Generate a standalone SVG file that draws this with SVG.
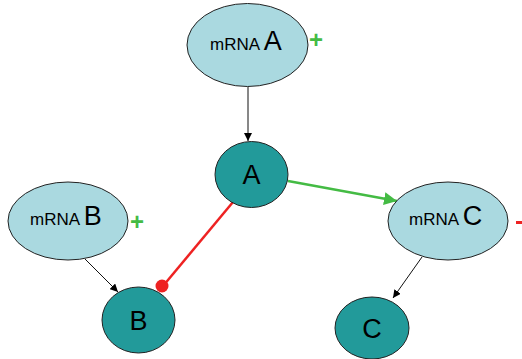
<svg xmlns="http://www.w3.org/2000/svg" width="522" height="359" viewBox="0 0 522 359">
<style>
.mrna{fill:#aad9e0;stroke:#222;stroke-width:1}
.prot{fill:#229a9a;stroke:#222;stroke-width:1}
.t{font-family:"Liberation Sans",Arial,sans-serif;fill:#000}
.sm{font-size:17px}
.lg{font-size:27px}
.sign{font-family:"Liberation Sans",Arial,sans-serif;font-weight:bold;font-size:24px}
.blk{stroke:#111;stroke-width:1;fill:none}
</style>
<defs>
<marker id="ab" viewBox="0 0 10 10" refX="10" refY="5" markerWidth="8" markerHeight="8" markerUnits="userSpaceOnUse" orient="auto"><path d="M0,0 L10,5 L0,10 z" fill="#000"/></marker>
<marker id="ag" viewBox="0 0 10 10" refX="10" refY="5" markerWidth="13" markerHeight="13" markerUnits="userSpaceOnUse" orient="auto"><path d="M0,0 L10,5 L0,10 z" fill="#44bb44"/></marker>
</defs>
<g id="connectors">
<line class="blk" x1="248" y1="87" x2="248" y2="141" marker-end="url(#ab)"/>
<line class="blk" x1="85" y1="259" x2="118" y2="292" marker-end="url(#ab)"/>
<line class="blk" x1="422" y1="257" x2="393" y2="298" marker-end="url(#ab)"/>
<line x1="288" y1="181" x2="397" y2="201" stroke="#44bb44" stroke-width="2.5" marker-end="url(#ag)"/>
<line x1="233" y1="202" x2="163" y2="286" stroke="#ee2222" stroke-width="2.5"/>
<circle cx="162" cy="286" r="6.5" fill="#ee2222"/>
</g>
<g id="mrnaA">
<ellipse class="mrna" cx="247.5" cy="45" rx="60.5" ry="41.5"/>
<text class="t sm" x="210" y="50">mRNA <tspan class="lg">A</tspan></text>
<text class="sign" x="316" y="48" text-anchor="middle" fill="#44bb44">+</text>
</g>
<g id="mrnaB">
<ellipse class="mrna" cx="68" cy="221" rx="60" ry="39"/>
<text class="t sm" x="30" y="225">mRNA <tspan class="lg">B</tspan></text>
<text class="sign" x="137" y="230" text-anchor="middle" fill="#44bb44">+</text>
</g>
<g id="mrnaC">
<ellipse class="mrna" cx="448" cy="221" rx="60" ry="39"/>
<text class="t sm" x="409" y="225">mRNA <tspan class="lg">C</tspan></text>
<rect x="516" y="221" width="8" height="3" fill="#ee2222"/>
</g>
<g id="A">
<ellipse class="prot" cx="251.5" cy="174.5" rx="36.5" ry="33"/>
<text class="t lg" x="251.5" y="184" text-anchor="middle">A</text>
</g>
<g id="B">
<ellipse class="prot" cx="138.5" cy="320" rx="36.5" ry="33"/>
<text class="t lg" x="138.5" y="330" text-anchor="middle">B</text>
</g>
<g id="C">
<ellipse class="prot" cx="372" cy="328" rx="37" ry="31"/>
<text class="t lg" x="372" y="338" text-anchor="middle">C</text>
</g>
</svg>
